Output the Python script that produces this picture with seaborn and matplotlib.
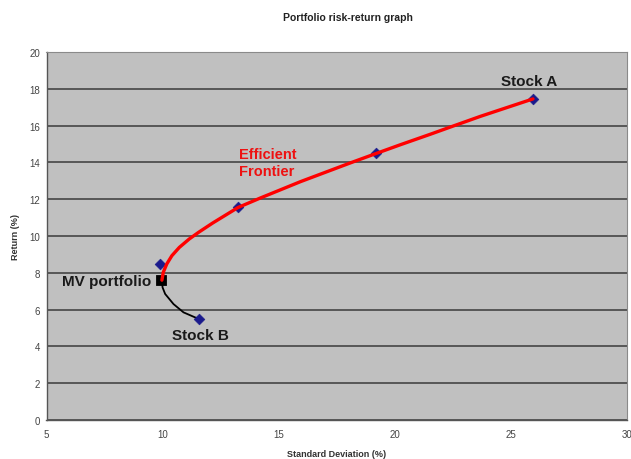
import matplotlib
matplotlib.use("Agg")
import matplotlib.pyplot as plt
import seaborn as sns
import pandas as pd

# Portfolio points (standard deviation %, return %)
asset_sd = [9.9, 13.25, 19.2, 25.95, 11.55]
asset_ret = [8.5, 11.55, 14.5, 17.45, 5.5]

# Minimum-variance portfolio
mv_sd = [9.95]
mv_ret = [7.6]

# Efficient frontier (upper branch)
frontier_sd = [9.97, 10.03, 10.18, 10.40, 10.72, 11.15, 11.55, 12.15, 13.25,
               14.20, 15.93, 18.08, 19.23, 20.24, 21.53, 22.39, 23.68, 25.95]
frontier_ret = [7.60, 8.03, 8.48, 8.93, 9.38, 9.84, 10.20, 10.70, 11.55,
                12.06, 12.95, 13.97, 14.50, 14.96, 15.53, 15.92, 16.50, 17.45]

# Lower (inefficient) branch towards Stock B
lower_sd = [9.97, 10.00, 10.11, 10.47, 10.90, 11.54]
lower_ret = [7.55, 7.20, 6.85, 6.30, 5.85, 5.50]

x_ticks = [5, 10, 15, 20, 25, 30]
y_ticks = [0, 2, 4, 6, 8, 10, 12, 14, 16, 18, 20]

sns.set_theme(style="white")
plt.rcParams["font.family"] = ["Liberation Sans", "DejaVu Sans"]

fig = plt.figure(figsize=(6.31, 4.6), dpi=100)
ax = fig.add_axes([46.5 / 631, 1 - 421 / 460, (627 - 46.5) / 631, (421 - 53) / 460])
ax.set_facecolor("#c0c0c0")

frontier = pd.DataFrame({"sd": frontier_sd, "ret": frontier_ret})
lower = pd.DataFrame({"sd": lower_sd, "ret": lower_ret})
assets = pd.DataFrame({"sd": asset_sd, "ret": asset_ret})
mv = pd.DataFrame({"sd": mv_sd, "ret": mv_ret})

sns.lineplot(data=lower, x="sd", y="ret", sort=False, color="black",
             linewidth=1.3, ax=ax, zorder=3, solid_joinstyle="round",
             solid_capstyle="round")
sns.scatterplot(data=assets, x="sd", y="ret", marker="D", s=30,
                color="#1a1a8c", edgecolor="#1a1a8c", ax=ax, zorder=4)
sns.lineplot(data=frontier, x="sd", y="ret", sort=False, color="#ff0000",
             linewidth=2.4, ax=ax, zorder=5, solid_joinstyle="round",
             solid_capstyle="round")
sns.scatterplot(data=mv, x="sd", y="ret", marker="s", s=55, color="black",
                edgecolor="black", ax=ax, zorder=4)

ax.set_xlim(5, 30)
ax.set_ylim(0, 20)
ax.set_xticks(x_ticks)
ax.set_yticks(y_ticks)
ax.yaxis.grid(True, color="#3a3a3a", linewidth=1.1)
ax.xaxis.grid(False)
ax.set_axisbelow(True)
ax.tick_params(axis="both", direction="inout", length=5, width=0.8,
               color="#555555", labelsize=7, labelcolor="#444444", pad=2)
ax.tick_params(axis="x", pad=4)
for side in ["left", "bottom"]:
    ax.spines[side].set_color("#555555")
    ax.spines[side].set_linewidth(1.0)
for side in ["top", "right"]:
    ax.spines[side].set_color("#8a8a8a")
    ax.spines[side].set_linewidth(0.8)

ax.set_xlabel("Standard Deviation (%)", fontsize=6.5, fontweight="bold",
              color="#333333", labelpad=7)
ax.set_ylabel("Return (%)", fontsize=6.5, fontweight="bold",
              color="#333333", labelpad=7)

label_style = dict(fontsize=11, fontweight="bold", color="#1a1a1a")
ax.text(25.8, 18.45, "Stock A", ha="center", va="center", **label_style)
ax.text(9.5, 7.55, "MV portfolio", ha="right", va="center", **label_style)
ax.text(11.64, 4.6, "Stock B", ha="center", va="center", **label_style)
ax.text(13.3, 14.0, "Efficient\nFrontier", ha="left", va="center",
        fontsize=10.5, fontweight="bold", color="#ee1111", linespacing=1.3)

fig.text(348 / 631, 1 - 18 / 460, "Portfolio risk-return graph",
         ha="center", va="center", fontsize=7.5, fontweight="bold",
         color="#222222")

fig.savefig("out.png", dpi=100, facecolor="white")
